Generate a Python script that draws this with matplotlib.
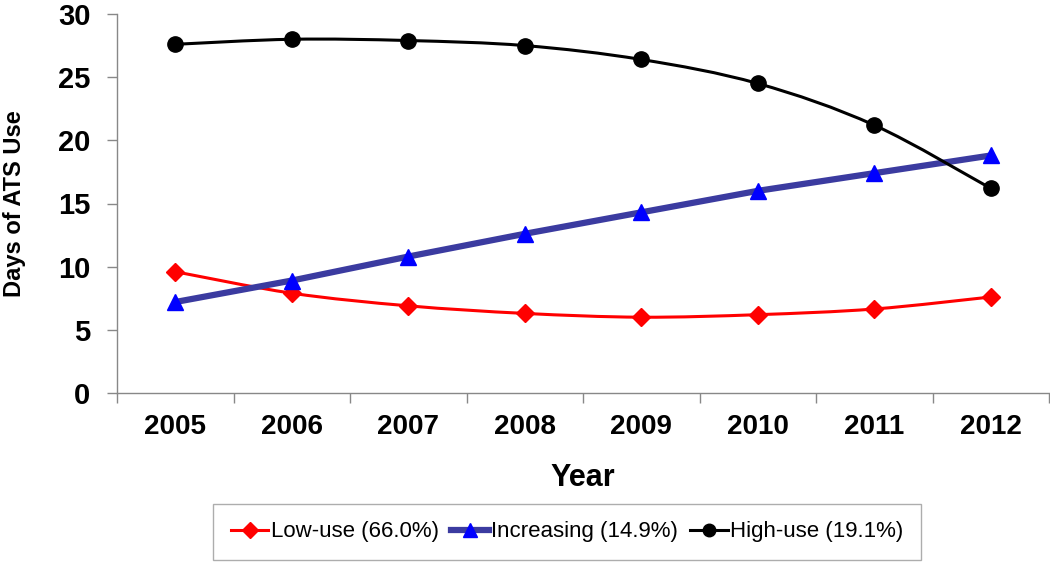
import matplotlib
matplotlib.use("Agg")
import matplotlib.pyplot as plt
from matplotlib.path import Path
from matplotlib.patches import PathPatch
from matplotlib.lines import Line2D
import numpy as np

years = ["2005", "2006", "2007", "2008", "2009", "2010", "2011", "2012"]
low_use = [9.6, 7.9, 6.9, 6.3, 6.0, 6.2, 6.65, 7.6]
increasing = [7.2, 8.9, 10.8, 12.6, 14.3, 16.0, 17.4, 18.8]
high_use = [27.6, 28.0, 27.9, 27.5, 26.4, 24.5, 21.2, 16.2]
labels = ["Low-use (66.0%)", "Increasing (14.9%)", "High-use (19.1%)"]

plt.rcParams['font.family'] = ['Liberation Sans', 'DejaVu Sans']

fig = plt.figure(figsize=(10.5, 5.67), dpi=100)
ax = fig.add_axes([117/1050, 1-393/567, (1049-117)/1050, (393-14)/567])

x = np.arange(len(years))


def smooth_path(xs, ys, t=1/6):
    xs = np.asarray(xs, float); ys = np.asarray(ys, float)
    n = len(xs)
    verts = [(xs[0], ys[0])]
    codes = [Path.MOVETO]
    for i in range(n - 1):
        p0 = np.array([xs[max(i-1, 0)], ys[max(i-1, 0)]])
        p1 = np.array([xs[i], ys[i]])
        p2 = np.array([xs[i+1], ys[i+1]])
        p3 = np.array([xs[min(i+2, n-1)], ys[min(i+2, n-1)]])
        c1 = p1 + (p2 - p0) * t
        c2 = p2 - (p3 - p1) * t
        verts += [tuple(c1), tuple(c2), tuple(p2)]
        codes += [Path.CURVE4] * 3
    return Path(verts, codes)


# Low-use (red, smoothed)
ax.add_patch(PathPatch(smooth_path(x, low_use), fill=False, edgecolor='#ff0000', lw=2.2, zorder=3))
ax.plot(x, low_use, linestyle='none', marker='D', ms=9, color='#ff0000', zorder=4)

# Increasing (blue thick line)
ax.plot(x, increasing, color='#3b3ba0', lw=4.5, zorder=3, solid_capstyle='butt')
ax.plot(x, increasing, linestyle='none', marker='^', ms=12, color='#0000ff', zorder=4)

# High-use (black, smoothed)
ax.add_patch(PathPatch(smooth_path(x, high_use), fill=False, edgecolor='#000000', lw=2.2, zorder=3))
ax.plot(x, high_use, linestyle='none', marker='o', ms=11, color='#000000', zorder=4)

ax.set_xlim(-0.5, len(years) - 0.5)
ax.set_ylim(0, 30)
ax.set_yticks([0, 5, 10, 15, 20, 25, 30])
ax.set_xticks(x)
ax.set_xticklabels(years)
ax.set_xticks(np.arange(-0.5, len(years)), minor=True)
ax.tick_params(axis='x', which='major', length=0, pad=15, labelsize=20)
ax.tick_params(axis='x', which='minor', length=7, color='#888888', width=1)
ax.tick_params(axis='y', which='major', length=7, color='#888888', width=1, pad=12, labelsize=21)
for lab in ax.get_xticklabels() + ax.get_yticklabels():
    lab.set_fontweight('bold')

for s in ['top', 'right']:
    ax.spines[s].set_visible(False)
for s in ['left', 'bottom']:
    ax.spines[s].set_color('#888888')
    ax.spines[s].set_linewidth(1)

ax.set_xlabel('Year', fontsize=22, fontweight='bold', labelpad=17)
ax.set_ylabel('Days of ATS Use', fontsize=17, fontweight='bold')
ax.yaxis.set_label_coords(-0.098, 0.5)

handles = [
    Line2D([], [], color='#ff0000', lw=2.2, marker='D', ms=8),
    Line2D([], [], color='#3b3ba0', lw=4.5, marker='^', ms=10, mfc='#0000ff', mec='#0000ff'),
    Line2D([], [], color='#000000', lw=2.2, marker='o', ms=9),
]
leg = fig.legend(handles, labels, loc='center', bbox_to_anchor=(567/1050, 1-532/567),
                 ncol=3, fontsize=16, frameon=True, fancybox=False, handlelength=1.7,
                 handletextpad=0.1, columnspacing=0.55, borderpad=0.8)
leg.get_frame().set_edgecolor('#999999')
leg.get_frame().set_linewidth(1)

fig.savefig('out.png', dpi=100)
